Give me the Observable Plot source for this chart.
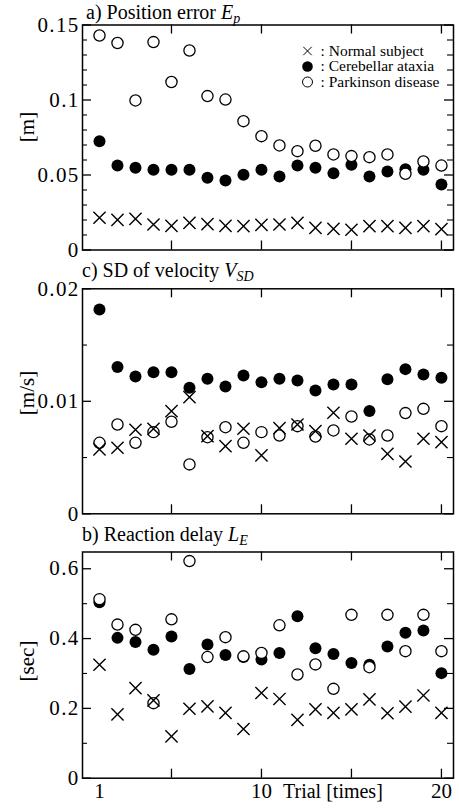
<!DOCTYPE html>
<html><head><meta charset="utf-8">
<script src="https://cdn.jsdelivr.net/npm/d3@7"></script>
<script src="https://cdn.jsdelivr.net/npm/@observablehq/plot@0.6"></script>
<style>
body{margin:0;background:#fff;}
#wrap{position:relative;width:459px;height:809px;}
#wrap svg{display:block;}
#wrap svg, #wrap svg text, #wrap svg tspan{font-family:"Liberation Serif","Times New Roman",serif !important;}
#wrap svg [aria-label^="y-axis"] text{letter-spacing:1.3px;}
</style>
</head><body>
<div id="wrap"></div>
<script>
const trials = [1,2,3,4,5,6,7,8,9,10,11,12,13,14,15,16,17,18,19,20];

// a) Position error Ep [m]
const posNormal     = [0.0215,0.0201,0.0208,0.0170,0.0161,0.0181,0.0172,0.0161,0.0159,0.0168,0.0170,0.0181,0.0148,0.0141,0.0135,0.0159,0.0159,0.0148,0.0159,0.0139];
const posCerebellar = [0.0725,0.0563,0.0548,0.0535,0.0535,0.0535,0.0481,0.0463,0.0501,0.0535,0.0490,0.0563,0.0548,0.0512,0.0568,0.0490,0.0523,0.0539,0.0535,0.0437];
const posParkinson  = [0.1430,0.1380,0.0997,0.1386,0.1120,0.1330,0.1026,0.1003,0.0859,0.0759,0.0697,0.0659,0.0695,0.0637,0.0626,0.0619,0.0637,0.0508,0.0590,0.0563];

// c) SD of velocity VSD [m/s]
const velNormal     = [0.00572,0.00587,0.00747,0.00756,0.00913,0.01037,0.00690,0.00601,0.00756,0.00519,0.00761,0.00794,0.00735,0.00898,0.00667,0.00696,0.00533,0.00465,0.00667,0.00637];
const velCerebellar = [0.01816,0.01304,0.01221,0.01259,0.01259,0.01120,0.01200,0.01132,0.01230,0.01170,0.01200,0.01185,0.01096,0.01150,0.01150,0.00913,0.01197,0.01286,0.01239,0.01209];
const velParkinson  = [0.00631,0.00794,0.00631,0.00726,0.00818,0.00439,0.00681,0.00770,0.00631,0.00726,0.00696,0.00779,0.00687,0.00741,0.00865,0.00661,0.00696,0.00895,0.00933,0.00779];

// b) Reaction delay LE [sec]
const delayNormal     = [0.325,0.183,0.258,0.223,0.120,0.199,0.206,0.187,0.141,0.244,0.227,0.167,0.197,0.187,0.197,0.226,0.186,0.205,0.237,0.187];
const delayCerebellar = [0.504,0.402,0.390,0.368,0.406,0.313,0.383,0.353,0.347,0.340,0.359,0.464,0.372,0.356,0.330,0.325,0.377,0.417,0.423,0.301];
const delayParkinson  = [0.513,0.440,0.425,0.215,0.455,0.622,0.347,0.404,0.349,0.359,0.438,0.297,0.326,0.256,0.468,0.318,0.468,0.364,0.468,0.364];

const xMajorTicks = [5,10,15,20];
const xTickLabels = [1,10,20];

const posTicks = [0,0.05,0.1,0.15];
const posTickLabels = ["0","0.05","0.1","0.15"];
const posMinor = [0.01,0.02,0.03,0.04,0.06,0.07,0.08,0.09,0.11,0.12,0.13,0.14];

const velTicks = [0,0.01,0.02];
const velTickLabels = ["0","0.01","0.02"];
const velMinor = [0.005,0.015];

const delayTicks = [0,0.2,0.4,0.6];
const delayTickLabels = ["0","0.2","0.4","0.6"];
const delayMinor = [0.1,0.3,0.5];

const legendLabels = [": Normal subject", ": Cerebellar ataxia", ": Parkinson disease"];

const FONT = '"Liberation Serif", "Times New Roman", serif';
const W = 459, ML = 82, MR = 6;
const FW = W - ML - MR;

function rows(values){ return trials.map((t,i)=>({t, v: values[i]})); }

function panel(cfg){
  const FH = cfg.height - cfg.mt - cfg.mb;
  const marks = [
    Plot.frame({stroke:"black", strokeWidth:1.5}),
    Plot.tickY(cfg.ticks, {y:d=>d, insetRight: FW-9, stroke:"black", strokeWidth:1.3}),
    Plot.tickY(cfg.ticks, {y:d=>d, insetLeft: FW-9, stroke:"black", strokeWidth:1.3}),
    Plot.tickY(cfg.minor, {y:d=>d, insetRight: FW-5, stroke:"black", strokeWidth:1.1}),
    Plot.tickY(cfg.minor, {y:d=>d, insetLeft: FW-6, stroke:"black", strokeWidth:1.1}),
    Plot.tickX(xMajorTicks, {x:d=>d, insetBottom: FH-9, stroke:"black", strokeWidth:1.3}),
    Plot.tickX(xMajorTicks, {x:d=>d, insetTop: FH-9, stroke:"black", strokeWidth:1.3}),
    Plot.dot(rows(cfg.cer), {x:"t", y:"v", r:6, fill:"black", stroke:"none"}),
    Plot.dot(rows(cfg.par), {x:"t", y:"v", r:5.6, fill:"white", stroke:"black", strokeWidth:1.3}),
    Plot.dot(rows(cfg.nor), {x:"t", y:"v", r:5.6, symbol:"times", stroke:"black", strokeWidth:1.4})
  ];
  if (cfg.legend){
    const ys = [26, 41.5, 57];
    marks.push(
      Plot.dot([0], {frameAnchor:"top-left", dx:225, dy:ys[0], symbol:"times", r:3.9, stroke:"black", strokeWidth:1}),
      Plot.dot([0], {frameAnchor:"top-left", dx:225, dy:ys[1], r:5.3, fill:"black", stroke:"none"}),
      Plot.dot([0], {frameAnchor:"top-left", dx:225, dy:ys[2], r:5, fill:"white", stroke:"black", strokeWidth:1}),
      ...legendLabels.map((s,i)=>Plot.text([s], {text:d=>d, frameAnchor:"top-left", dx:238, dy:ys[i], textAnchor:"start", lineAnchor:"middle", fontSize:15.5, fill:"black"}))
    );
  }
  const p = Plot.plot({
    width: W, height: cfg.height,
    marginLeft: ML, marginRight: MR, marginTop: cfg.mt, marginBottom: cfg.mb,
    style: {fontFamily: FONT, fontSize: "21px", color: "black", background: "white", overflow: "visible"},
    x: cfg.xaxis ? {domain:[0.056,20.67], ticks: xTickLabels, tickSize:0, tickPadding:5, tickFormat:d=>String(d), label:null}
                 : {domain:[0.056,20.67], axis:null},
    y: {domain: cfg.domain, ticks: cfg.ticks, tickSize:0, tickPadding:3,
        tickFormat: d => cfg.labels[cfg.ticks.indexOf(d)], label:null},
    marks
  });
  const s = d3.select(p);
  const t = s.append("text").attr("x", cfg.tx).attr("y", cfg.ty).attr("text-anchor","start")
    .attr("font-family", FONT).attr("font-size", 20).attr("fill","black");
  t.append("tspan").text(cfg.title + " ");
  t.append("tspan").attr("font-style","italic").text(cfg.sym);
  t.append("tspan").attr("font-style","italic").attr("font-size",14).attr("dy",4).text(cfg.sub);
  s.append("text").attr("transform", `translate(27,${cfg.ly}) rotate(-90)`)
    .attr("text-anchor","middle").attr("dominant-baseline","central")
    .attr("font-family", FONT).attr("font-size", 21).attr("fill","black").text(cfg.ylabel);
  if (cfg.xlabel){
    s.append("text").attr("x", 283).attr("y", cfg.height - 11).attr("text-anchor","start")
      .attr("font-family", FONT).attr("font-size", 20).attr("fill","black").text(cfg.xlabel);
  }
  return p;
}

const wrap = document.getElementById("wrap");
wrap.appendChild(panel({height:260, mt:24.5, mb:10.5, domain:[0,0.15], ticks:posTicks, labels:posTickLabels, minor:posMinor,
  nor:posNormal, cer:posCerebellar, par:posParkinson, legend:true,
  title:"a) Position error", sym:"E", sub:"p", tx:86, ty:19, ylabel:"[m]", ly:127}));
wrap.appendChild(panel({height:260, mt:28.3, mb:6.7, domain:[0,0.02], ticks:velTicks, labels:velTickLabels, minor:velMinor,
  nor:velNormal, cer:velCerebellar, par:velParkinson,
  title:"c) SD of velocity", sym:"V", sub:"SD", tx:82, ty:17, ylabel:"[m/s]", ly:133}));
wrap.appendChild(panel({height:289, mt:31.5, mb:31.3, domain:[0,0.648], ticks:delayTicks, labels:delayTickLabels, minor:delayMinor,
  nor:delayNormal, cer:delayCerebellar, par:delayParkinson, xaxis:true,
  title:"b) Reaction delay", sym:"L", sub:"E", tx:82, ty:21, ylabel:"[sec]", ly:141, xlabel:"Trial [times]"}));
</script>
</body></html>
